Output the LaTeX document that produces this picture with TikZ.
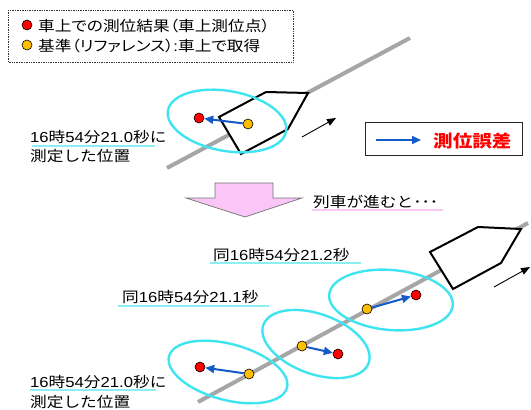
\documentclass[tikz,border=0pt]{standalone}
\usepackage{fontspec}
\setmainfont{Noto Sans CJK JP}[FakeStretch=1.15]
\newfontfamily\propcjk{Noto Sans CJK JP}[FakeStretch=1.15,RawFeature=+palt]
\newfontfamily\arialike{Liberation Sans}[FakeStretch=1.15]
\newcommand{\dg}[1]{{\arialike #1}}
\usetikzlibrary{arrows.meta}
\definecolor{railgray}{RGB}{166,166,166}
\definecolor{ellcyan}{RGB}{64,228,240}
\definecolor{ulcyan}{RGB}{140,238,242}
\definecolor{ulpink}{RGB}{250,200,245}
\definecolor{errblue}{RGB}{20,90,200}
\definecolor{dotred}{RGB}{255,0,0}
\definecolor{dotyellow}{RGB}{255,190,0}
\definecolor{arrowpink}{RGB}{250,198,248}
\tikzset{
  rail/.style={draw=railgray,line width=4pt},
  trainbody/.style={draw=black,line width=2pt,fill=white,line join=miter},
  errell/.style={draw=ellcyan,line width=2.4pt},
  reddot/.style={circle,draw=black,line width=0.6pt,fill=dotred,minimum size=10pt,inner sep=0pt},
  yellowdot/.style={circle,draw=black,line width=0.6pt,fill=dotyellow,minimum size=10pt,inner sep=0pt},
  errarrow/.style={draw=errblue,line width=2pt,-{Triangle[length=9pt,width=8pt]}},
  movearrow/.style={draw=black,line width=0.9pt,-{Triangle[length=9pt,width=7pt]}},
  lbl/.style={inner sep=0pt,anchor=base west,font=\fontsize{14.5}{18}\selectfont,align=left},
  ulc/.style={draw=ulcyan,line width=2pt},
  ulp/.style={draw=ulpink,line width=2pt},
}
\begin{document}
\begin{tikzpicture}[x=1pt,y=-1pt]
\useasboundingbox (0,0) rectangle (531,410);

% legend box
\draw[densely dotted,line width=0.7pt,draw=black!80] (8,10) rectangle (293,62);
\node[reddot] (lr) at (27,25) {};
\node[yellowdot] (ly) at (27,45) {};
\node[lbl,font=\fontsize{14.5}{18}\propcjk] (lt1) at (38,31) {車上での測位結果（車上測位点）};
\node[lbl,font=\fontsize{14.5}{18}\propcjk] (lt2) at (38,51) {基準（リファレンス）\dg{:}車上で取得};

% error legend box
\draw[line width=0.8pt,draw=black!85] (365,122) rectangle (522,155);
\coordinate (ea) at (376,140);
\coordinate (eb) at (421,140);
\draw[errarrow] (ea) -- (eb);
\node[lbl,font=\fontsize{17}{20}\selectfont\bfseries,text=dotred] (et) at (433,147) {測位誤差};

% ---- top scene
\draw[rail] (167,168) -- (410,38);
\draw[trainbody] (219,117) -- (266,92) -- (308,93) -- (288,129) -- (241,154) -- cycle;
\draw[errell,shift={(227,121)},rotate=-10] (0,0) ellipse [x radius=60,y radius=30];
\node[reddot] (r0) at (199,118) {};
\node[yellowdot] (y0) at (248,124) {};
\draw[errarrow] (y0) -- (r0);
\coordinate (ma1) at (302,137);
\coordinate (mb1) at (336,118);
\draw[movearrow] (ma1) -- (mb1);

\node[lbl] (tl1) at (30,142) {\dg{16}時\dg{54}分\dg{21.0}秒に};
\node[lbl] (tl2) at (30,161) {測定した位置};
\draw[ulc] (32,146) -- (155,146);

% ---- big down arrow
\draw[fill=arrowpink,draw=black!55,line width=0.7pt]
  (215,183) -- (273,183) -- (273,198) -- (302,198) -- (245,217) -- (186,198) -- (215,198) -- cycle;
\node[lbl] (go) at (313,207) {列車が進むと･･･};
\draw[ulp] (312,210) -- (443,210);

% ---- bottom scene
\draw[rail] (198,402) -- (528,223);
\draw[trainbody] (430,252) -- (478,227) -- (521,229) -- (501,263) -- (453,289) -- cycle;
\coordinate (ma2) at (494,287);
\coordinate (mb2) at (530,267);
\draw[movearrow] (ma2) -- (mb2);

\draw[errell,shift={(228,372)},rotate=-15] (0,0) ellipse [x radius=61,y radius=28];
\draw[errell,shift={(316,344)},rotate=-20] (0,0) ellipse [x radius=56,y radius=30];
\draw[errell,shift={(391,300)},rotate=-5] (0,0) ellipse [x radius=62,y radius=30];

\node[reddot] (r1) at (200,367) {};
\node[yellowdot] (y1) at (249,374) {};
\node[yellowdot] (y2) at (302,346) {};
\node[reddot] (r2) at (338,354) {};
\node[yellowdot] (y3) at (367,309) {};
\node[reddot] (r3) at (416,295) {};
\draw[errarrow] (y1) -- (r1);
\draw[errarrow] (y2) -- (r2);
\draw[errarrow] (y3) -- (r3);

\node[lbl] (s2) at (213,260) {同\dg{16}時\dg{54}分\dg{21.2}秒};
\draw[ulc] (210,263) -- (361,263);
\node[lbl] (s1) at (122,302) {同\dg{16}時\dg{54}分\dg{21.1}秒};
\draw[ulc] (118,306) -- (269,306);
\node[lbl] (bl1) at (30,387) {\dg{16}時\dg{54}分\dg{21.0}秒に};
\node[lbl] (bl2) at (30,407) {測定した位置};
\draw[ulc] (30,390) -- (156,390);
\end{tikzpicture}
\end{document}
